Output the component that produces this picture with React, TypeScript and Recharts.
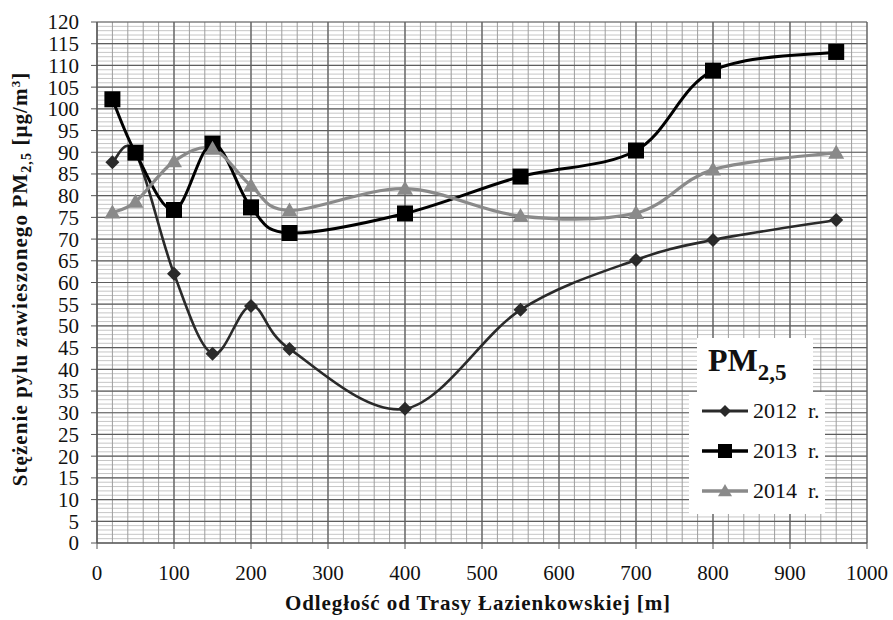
import { LineChart, Line, XAxis, YAxis, CartesianGrid, Legend } from 'recharts';

const distances = [20, 50, 100, 150, 200, 250, 400, 550, 700, 800, 960];
const pm2012 = [87.7, 90, 62, 43.6, 54.6, 44.7, 30.9, 53.7, 65.2, 69.8, 74.4];
const pm2013 = [102.2, 89.9, 76.7, 92, 77.3, 71.4, 75.9, 84.4, 90.4, 108.8, 113.1];
const pm2014 = [76.1, 78.6, 87.9, 90.8, 82.3, 76.6, 81.6, 75.3, 76, 86, 89.9];

const xTicks = [0, 100, 200, 300, 400, 500, 600, 700, 800, 900, 1000];
const yTicks = [0, 5, 10, 15, 20, 25, 30, 35, 40, 45, 50, 55, 60, 65, 70, 75, 80, 85, 90, 95, 100, 105, 110, 115, 120];

// drobna siatka: co 1 µg/m3 i co 20 m
const yMinor = Array.from({ length: 121 }, (_, i) => i);
const xMinor = Array.from({ length: 51 }, (_, i) => i * 20);

const data = distances.map((d, i) => ({
  x: d,
  y2012: pm2012[i],
  y2013: pm2013[i],
  y2014: pm2014[i],
}));

const FONT = '"Liberation Serif", "Times New Roman", serif';

// wygładzanie w stylu Excela (Catmull-Rom)
const excelSmooth = (context: any) => {
  let pts: number[][] = [];
  return {
    areaStart() {},
    areaEnd() {},
    lineStart() {
      pts = [];
    },
    point(x: number, y: number) {
      pts.push([+x, +y]);
    },
    lineEnd() {
      const n = pts.length;
      if (!n) return;
      context.moveTo(pts[0][0], pts[0][1]);
      for (let i = 0; i < n - 1; i++) {
        const p0 = pts[i - 1] || pts[i];
        const p1 = pts[i];
        const p2 = pts[i + 1];
        const p3 = pts[i + 2] || pts[i + 1];
        context.bezierCurveTo(
          p1[0] + (p2[0] - p0[0]) / 6,
          p1[1] + (p2[1] - p0[1]) / 6,
          p2[0] - (p3[0] - p1[0]) / 6,
          p2[1] - (p3[1] - p1[1]) / 6,
          p2[0],
          p2[1]
        );
      }
    },
  };
};

const diamond = (cx: number, cy: number, r: number, fill: string, key?: any) => (
  <polygon key={key} points={`${cx},${cy - r} ${cx + r},${cy} ${cx},${cy + r} ${cx - r},${cy}`} fill={fill} />
);
const square = (cx: number, cy: number, r: number, fill: string, key?: any) => (
  <rect key={key} x={cx - r} y={cy - r} width={r * 2} height={r * 2} fill={fill} />
);
const triangle = (cx: number, cy: number, r: number, fill: string, key?: any) => (
  <polygon key={key} points={`${cx},${cy - r} ${cx + r},${cy + r * 0.75} ${cx - r},${cy + r * 0.75}`} fill={fill} />
);

const series = [
  { key: 'y2012', name: '2012 r.', color: '#2a2a2a', width: 2.6, shape: diamond, size: 7 },
  { key: 'y2013', name: '2013 r.', color: '#000000', width: 3, shape: square, size: 8 },
  { key: 'y2014', name: '2014 r.', color: '#8a8a8a', width: 3.2, shape: triangle, size: 8 },
];

const LegendBox = () => (
  <div style={{ position: 'relative', width: 136, height: 176, fontFamily: FONT, color: '#111' }}>
    <div
      style={{
        position: 'absolute',
        left: 8,
        top: 0,
        width: 116,
        height: 56,
        background: '#fff',
      }}
    >
      <div style={{ position: 'absolute', left: 11, top: 4, fontSize: 32, fontWeight: 'bold', lineHeight: '36px', whiteSpace: 'nowrap' }}>
        PM<span style={{ fontSize: 23, position: 'relative', top: 9 }}>2,5</span>
      </div>
    </div>
    <div
      style={{
        position: 'absolute',
        left: 0,
        top: 54,
        width: 136,
        height: 122,
        background: '#fff',
      }}
    >
      {series.map((s, i) => (
        <div key={s.key} style={{ position: 'absolute', left: 12, top: 4 + i * 40, height: 30, display: 'flex', alignItems: 'center' }}>
          <svg width={50} height={24} style={{ display: 'block' }}>
            <line x1={1} y1={12} x2={47} y2={12} stroke={s.color} strokeWidth={s.width + 0.5} />
            {s.shape(24, 12, s.size - 1, s.color)}
          </svg>
          <span style={{ fontSize: 22, whiteSpace: 'pre', marginLeft: 2 }}>{s.name.replace(' ', '  ')}</span>
        </div>
      ))}
    </div>
  </div>
);

const YTitle = () => (
  <text
    x={27}
    y={279}
    transform="rotate(-90, 27, 279)"
    textAnchor="middle"
    fontFamily={FONT}
    fontWeight="bold"
    fontSize={21}
    letterSpacing={1.1}
    fill="#111"
  >
    Stężenie pylu zawieszonego PM
    <tspan dy={4} fontSize={14}>2,5</tspan>
    <tspan dy={-4}> [μg/m</tspan>
    <tspan dy={-7} fontSize={13}>3</tspan>
    <tspan dy={7}>]</tspan>
  </text>
);

const XTitle = () => (
  <text x={478} y={610} textAnchor="middle" fontFamily={FONT} fontWeight="bold" fontSize={21} letterSpacing={0.9} fill="#111">
    Odległość od Trasy Łazienkowskiej [m]
  </text>
);

export default function App() {
  return (
    <div style={{ position: 'absolute', left: 0, top: 0, width: 893, height: 620, background: '#fff' }}>
      <LineChart width={893} height={620} data={data} margin={{ top: 22, right: 26, left: 0, bottom: 17 }}>
        <CartesianGrid horizontal={true} vertical={false} horizontalValues={yMinor} stroke="#c6c6c6" strokeWidth={1} />
        <CartesianGrid horizontal={false} vertical={true} verticalValues={xMinor} stroke="#9d9d9d" strokeWidth={1} />
        <CartesianGrid horizontalValues={yTicks} verticalValues={xTicks} stroke="#5e5e5e" strokeWidth={1.2} />

        <XAxis
          type="number"
          dataKey="x"
          domain={[0, 1000]}
          ticks={xTicks}
          interval={0}
          height={60}
          stroke="#555"
          tickSize={6}
          tickMargin={16}
          tick={{ fontFamily: FONT, fontSize: 21, fill: '#111' }}
          label={XTitle}
        />
        <YAxis
          type="number"
          domain={[0, 120]}
          ticks={yTicks}
          interval={0}
          width={97}
          stroke="#555"
          tickSize={6}
          tickMargin={12}
          tick={{ fontFamily: FONT, fontSize: 21, fill: '#111' }}
          label={YTitle}
        />

        {series.map((s) => (
          <Line
            key={s.key}
            dataKey={s.key}
            name={s.name}
            type={excelSmooth as any}
            stroke={s.color}
            strokeWidth={s.width}
            dot={(p: any) => s.shape(p.cx, p.cy, s.size, s.color, `${s.key}-${p.index}`)}
            activeDot={false}
            isAnimationActive={false}
          />
        ))}

        <Legend
          layout="vertical"
          align="center"
          verticalAlign="middle"
          content={LegendBox}
          wrapperStyle={{ left: 689, top: 338, width: 136, height: 176 }}
        />
      </LineChart>
    </div>
  );
}
